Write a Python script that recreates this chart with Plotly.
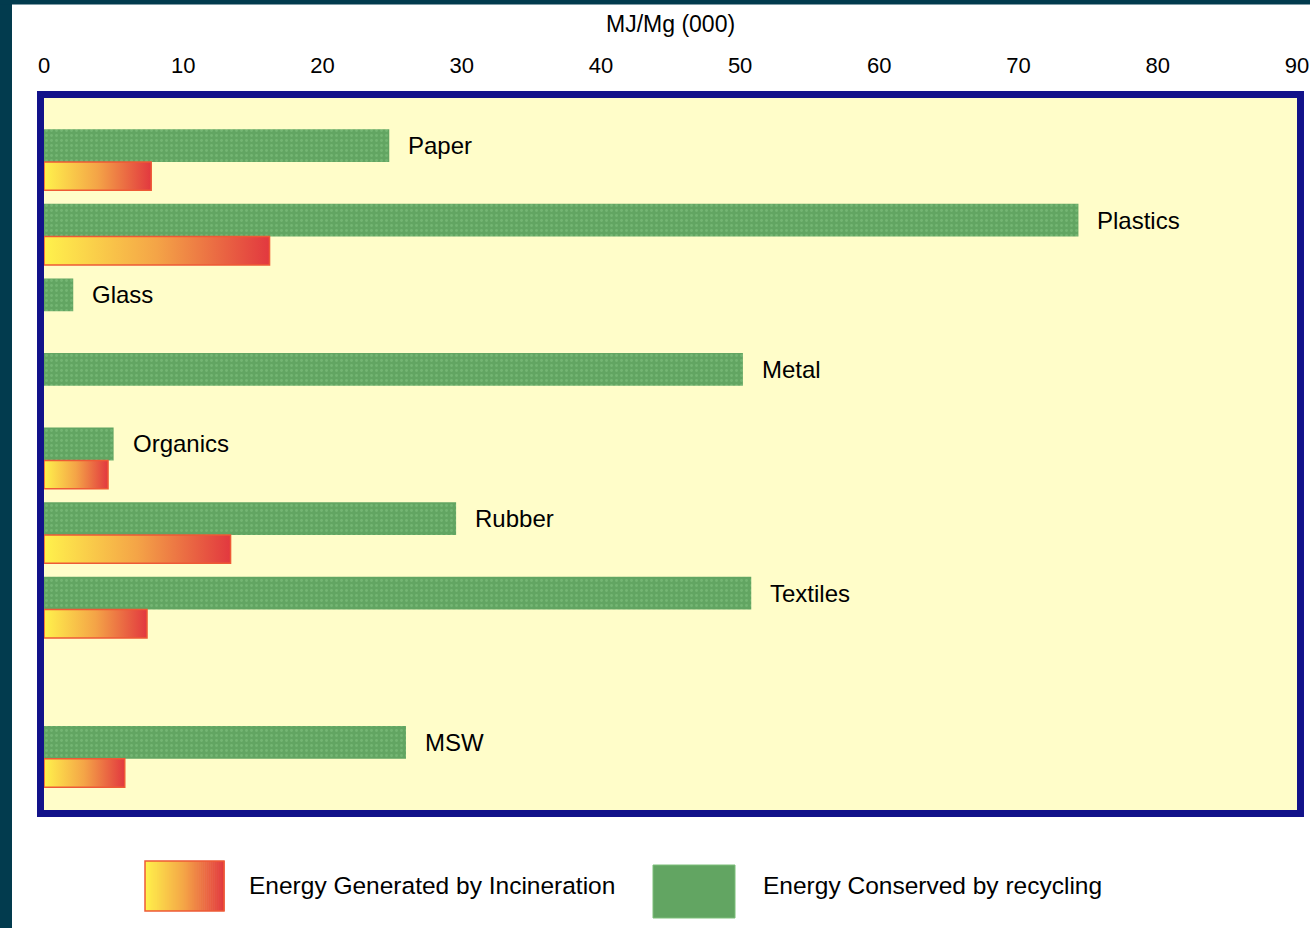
import plotly.graph_objects as go

# Energy per tonne of material, MJ/Mg (thousands)
materials = ["Paper", "Plastics", "Glass", "Metal", "Organics", "Rubber", "Textiles", "MSW"]
recycling = [24.8, 74.3, 2.1, 50.2, 5.0, 29.6, 50.8, 26.0]
incineration = [7.7, 16.2, None, None, 4.6, 13.4, 7.4, 5.8]
tick_values = [0, 10, 20, 30, 40, 50, 60, 70, 80, 90]
tick_labels = ["0", "10", "20", "30", "40", "50", "60", "70", "80", "90"]

legend_incineration = "Energy Generated by Incineration"
legend_recycling = "Energy Conserved by recycling"
axis_title = "MJ/Mg (000)"

# ---- layout geometry (pixels) ----
W, H = 1310, 928
PL, PR, PT, PB = 44, 1297, 98, 810          # inner plot box
PW, PH = PR - PL, PB - PT
ROW0_PX, ROW_PX = 162, 74.6                 # first row boundary, row pitch

FONT = "Liberation Sans, Arial, sans-serif"
GREEN = "#62A562"
NAVY = "#12128A"
TEAL = "#023B4E"
BG = "#FFFDC9"
GRAD = [[0.0, "#FFF24C"], [0.5, "#F4A447"], [1.0, "#E2383F"]]
GREEN_H, INC_H = 0.44, 0.38


def px(x):
    return (x - PL) / PW


def py(y):
    return (PB - y) / PH


def lerp_color(scale, t):
    def rgb(h):
        h = h.lstrip("#")
        return [int(h[i:i + 2], 16) for i in (0, 2, 4)]
    for (a, ca), (b, cb) in zip(scale[:-1], scale[1:]):
        if a <= t <= b:
            f = (t - a) / (b - a)
            c0, c1 = rgb(ca), rgb(cb)
            return "rgb(%d,%d,%d)" % tuple(round(c0[k] + (c1[k] - c0[k]) * f) for k in range(3))
    return scale[-1][1]


# MSW (the aggregate) sits one empty row below the individual materials
rows = [i + (1 if m == "MSW" else 0) for i, m in enumerate(materials)]

fig = go.Figure()

fig.add_trace(go.Bar(
    x=recycling, y=rows, orientation="h",
    offset=-GREEN_H, width=GREEN_H, base=0,
    marker=dict(color=GREEN, line=dict(width=0),
                pattern=dict(shape=".", fgcolor="#86C584", size=5, solidity=0.25)),
    showlegend=False, hoverinfo="skip",
))

# incineration bars: filled outlines with a yellow-to-red horizontal gradient
for r, v in zip(rows, incineration):
    if v is None:
        continue
    fig.add_trace(go.Scatter(
        x=[0, v, v, 0, 0],
        y=[r, r, r + INC_H, r + INC_H, r],
        mode="lines", fill="toself",
        line=dict(color="#EE5A36", width=1.5),
        fillgradient=dict(type="horizontal", colorscale=GRAD),
        showlegend=False, hoverinfo="skip",
    ))

annotations = []
for m, r, v in zip(materials, rows, recycling):
    annotations.append(dict(
        x=v, y=r - GREEN_H / 2, xref="x", yref="y", text=m,
        xanchor="left", yanchor="middle", xshift=17, showarrow=False,
        font=dict(family=FONT, size=24, color="#000000"),
    ))

annotations.append(dict(
    x=0.5, y=1, xref="paper", yref="paper", text=axis_title,
    xanchor="center", yanchor="middle", yshift=PT - 24, showarrow=False,
    font=dict(family=FONT, size=23, color="#000000"),
))

annotations.append(dict(
    x=px(247), y=py(885), xref="paper", yref="paper", text=legend_incineration,
    xanchor="left", yanchor="middle", showarrow=False,
    font=dict(family=FONT, size=24.5, color="#000000"),
))
annotations.append(dict(
    x=px(761), y=py(885), xref="paper", yref="paper", text=legend_recycling,
    xanchor="left", yanchor="middle", showarrow=False,
    font=dict(family=FONT, size=24.5, color="#000000"),
))

shapes = []
# page border strips
shapes.append(dict(type="rect", xref="paper", yref="paper",
                   x0=px(0), x1=px(12), y0=py(H), y1=py(0),
                   fillcolor=TEAL, line=dict(width=0), layer="above"))
shapes.append(dict(type="rect", xref="paper", yref="paper",
                   x0=px(0), x1=px(W), y0=py(4.5), y1=py(0),
                   fillcolor=TEAL, line=dict(width=0), layer="above"))
# plot frame
shapes.append(dict(type="rect", xref="paper", yref="paper",
                   x0=px(PL - 3.5), x1=px(PR + 3.5), y0=py(PB + 3.5), y1=py(PT - 3.5),
                   line=dict(color=NAVY, width=7), fillcolor="rgba(0,0,0,0)", layer="above"))

# legend swatches
sw_x0, sw_x1, sw_y0, sw_y1 = 145, 224, 861, 911
n_strips = 40
for k in range(n_strips):
    a = sw_x0 + (sw_x1 - sw_x0) * k / n_strips
    b = sw_x0 + (sw_x1 - sw_x0) * (k + 1) / n_strips
    shapes.append(dict(type="rect", xref="paper", yref="paper",
                       x0=px(a), x1=px(b + 0.6), y0=py(sw_y1), y1=py(sw_y0),
                       fillcolor=lerp_color(GRAD, (k + 0.5) / n_strips),
                       line=dict(width=0), layer="above"))
shapes.append(dict(type="rect", xref="paper", yref="paper",
                   x0=px(sw_x0), x1=px(sw_x1), y0=py(sw_y1), y1=py(sw_y0),
                   line=dict(color="#EE5A36", width=1.5), fillcolor="rgba(0,0,0,0)", layer="above"))
shapes.append(dict(type="rect", xref="paper", yref="paper",
                   x0=px(653), x1=px(735), y0=py(918), y1=py(865),
                   fillcolor=GREEN, line=dict(color="#7CBF7A", width=1), layer="above"))

y_top = (PT - ROW0_PX) / ROW_PX
y_bot = (PB - ROW0_PX) / ROW_PX

fig.update_layout(
    width=W, height=H,
    margin=dict(l=PL, r=W - PR, t=PT, b=H - PB, pad=0, autoexpand=False),
    paper_bgcolor="#FFFFFF",
    plot_bgcolor=BG,
    barmode="overlay",
    xaxis=dict(
        side="top", range=[0, 90], tickvals=tick_values, ticktext=tick_labels,
        showgrid=False, zeroline=False, showline=False, automargin=False,
        ticks="outside", ticklen=15, tickcolor="rgba(0,0,0,0)",
        tickfont=dict(family=FONT, size=22, color="#000000"),
        fixedrange=True,
    ),
    yaxis=dict(range=[y_bot, y_top], visible=False, automargin=False, fixedrange=True),
    annotations=annotations,
    shapes=shapes,
    showlegend=False,
)

fig.write_html("out.html")
